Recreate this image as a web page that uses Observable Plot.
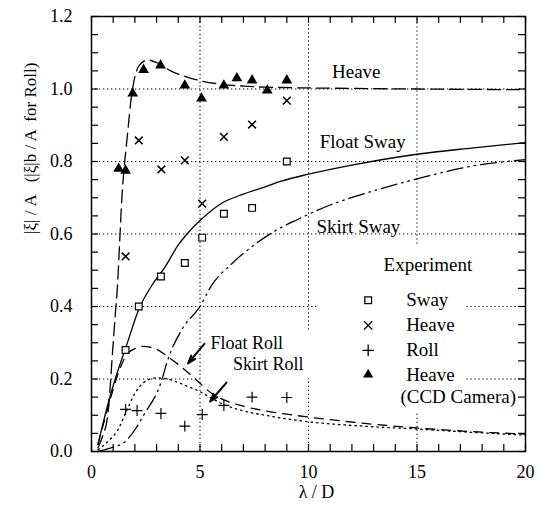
<!DOCTYPE html>
<html><head><meta charset="utf-8">
<script src="https://cdn.jsdelivr.net/npm/d3@7"></script>
<script src="https://cdn.jsdelivr.net/npm/@observablehq/plot@0.6"></script>
<style>body{margin:0;background:#fff} svg text{font-family:"Liberation Serif","Times New Roman",serif !important;}</style>
</head><body><div id="chart"></div>
<script>
// Theory curves [lambda/D, amplitude]
const heaveTheory = [[0.3,0.01],[0.5,0.04],[0.75,0.1],[1.0,0.3],[1.1,0.38],[1.2,0.46],[1.3,0.58],[1.4,0.7],[1.5,0.78],[1.6,0.84],[1.7,0.9],[1.8,0.96],[1.95,1.02],[2.2,1.065],[2.6,1.08],[3.1,1.07],[3.65,1.05],[4.3,1.035],[5,1.023],[6,1.013],[7,1.008],[8,1.005],[10,1.003],[15,1.0],[20,0.998]];
const floatSway = [[0.3,0.02],[0.8,0.14],[1.2,0.22],[1.6,0.29],[2.2,0.395],[2.8,0.46],[3.4,0.51],[4.0,0.57],[4.4,0.60],[5,0.637],[6,0.685],[7,0.71],[8,0.73],[8.7,0.745],[10,0.765],[12,0.79],[15,0.82],[17.5,0.837],[20,0.852]];
const skirtSway = [[0.3,0.0],[1.0,0.012],[1.5,0.025],[2.0,0.06],[2.4,0.10],[3.2,0.19],[3.5,0.25],[4.2,0.34],[5,0.40],[5.5,0.455],[6.5,0.52],[7.5,0.57],[8.5,0.61],[9.5,0.64],[11,0.68],[12.5,0.71],[15,0.752],[17.5,0.787],[20,0.805]];
const floatRoll = [[0.3,0.02],[0.8,0.13],[1.2,0.21],[1.6,0.265],[2.0,0.284],[2.4,0.29],[3.0,0.282],[3.5,0.262],[4.0,0.24],[4.5,0.215],[5.0,0.188],[5.5,0.162],[6.0,0.145],[7,0.125],[8,0.112],[9,0.103],[10,0.095],[12.5,0.078],[15,0.065],[17.5,0.055],[20,0.048]];
const skirtRoll = [[0.3,0.005],[0.8,0.03],[1.2,0.058],[1.6,0.11],[2.0,0.16],[2.4,0.19],[3.0,0.203],[3.5,0.2],[4.0,0.19],[4.5,0.178],[5.0,0.165],[5.5,0.148],[6.0,0.132],[7.0,0.112],[8.0,0.1],[9,0.09],[10,0.082],[12.5,0.07],[15,0.062],[17.5,0.053],[20,0.045]];

// Experimental points
const expSway  = [[1.57,0.28],[2.18,0.40],[3.2,0.483],[4.3,0.52],[5.1,0.59],[6.1,0.656],[7.4,0.672],[9.0,0.80]];
const expHeave = [[1.57,0.538],[2.18,0.858],[3.22,0.778],[4.3,0.803],[5.1,0.684],[6.1,0.868],[7.4,0.902],[9.0,0.968]];
const expRoll  = [[1.57,0.116],[2.1,0.113],[3.2,0.105],[4.3,0.07],[5.1,0.102],[6.1,0.127],[7.4,0.15],[9.0,0.149]];
const expCCD   = [[1.25,0.78],[1.57,0.775],[1.9,0.988],[2.4,1.053],[3.18,1.065],[4.3,1.01],[5.07,0.974],[6.1,1.01],[6.7,1.03],[7.4,1.024],[8.1,0.996],[9.0,1.024]];

// Axis ticks
const xTickLabels = [0,5,10,15,20];
const xMinorTicks = d3.range(0,21,1);
const yTickLabels = [0,0.2,0.4,0.6,0.8,1.0,1.2];
const yMinorTicks = d3.range(0,1.2001,0.05);

// Grid segments (interrupted around labels)
const gridY = [{y:1.0,x1:0,x2:20},{y:0.8,x1:0,x2:20},{y:0.6,x1:0,x2:20},{y:0.4,x1:0,x2:10.4},{y:0.4,x1:17.3,x2:20},{y:0.2,x1:0,x2:5},{y:0.2,x1:17.3,x2:20}];
const gridX = [{x:5,y1:0,y2:1.2},{x:10,y1:0.335,y2:1.2},{x:10,y1:0,y2:0.2},{x:15,y1:0.572,y2:1.2},{x:15,y1:0,y2:0.105}];

// Annotations
const curveLabels = [
  {x:12.2,y:1.045,text:"Heave",size:19},
  {x:12.5,y:0.853,text:"Float Sway",size:19},
  {x:12.3,y:0.618,text:"Skirt Sway",size:19},
  {x:15.5,y:0.513,text:"Experiment",size:19},
  {x:7.15,y:0.296,text:"Float Roll",size:18},
  {x:8.15,y:0.24,text:"Skirt Roll",size:18},
  {x:16.9,y:0.149,text:"(CCD Camera)",size:19}
];
const arrows = [
  {x1:5.2,y1:0.297,x2:4.45,y2:0.243},
  {x1:6.22,y1:0.19,x2:5.47,y2:0.138}
];
const legendX = 12.75, legendTextX = 14.5;
const legendItems = [
  {y:0.417,text:"Sway",symbol:"square",fill:"white"},
  {y:0.348,text:"Heave",symbol:"times",fill:"none"},
  {y:0.279,text:"Roll",symbol:"plus",fill:"none"},
  {y:0.212,text:"Heave",symbol:"triangle",fill:"black"}
];

const serif = "Liberation Serif";
const W = 546, H = 512, mL = 91, mR = 21, mT = 16, mB = 61;
const pw = W - mL - mR, ph = H - mT - mB, tk = 7;
const lw = 1.3;
const pts = (arr) => arr.map(([x,y]) => ({x,y}));
const T = {fontFamily: serif, fill: "black"};

const chart = Plot.plot({
  width: W, height: H,
  marginLeft: mL, marginRight: mR, marginTop: mT, marginBottom: mB,
  style: {fontFamily: serif, background: "white", overflow: "visible"},
  x: {domain: [0,20], axis: null},
  y: {domain: [0,1.2], axis: null},
  marks: [
    // grid
    Plot.ruleY(gridY, {y:"y", x1:"x1", x2:"x2", stroke:"black", strokeWidth:1, strokeDasharray:"1.3,2.7"}),
    Plot.ruleX(gridX, {x:"x", y1:"y1", y2:"y2", stroke:"black", strokeWidth:1, strokeDasharray:"1.3,2.7"}),
    // ticks (inward, all four sides)
    Plot.tickX(xMinorTicks, {x:d=>d, insetTop: ph - tk, stroke:"black", strokeWidth:1.2}),
    Plot.tickX(xMinorTicks, {x:d=>d, insetBottom: ph - tk, stroke:"black", strokeWidth:1.2}),
    Plot.tickY(yMinorTicks, {y:d=>d, insetRight: pw - tk, stroke:"black", strokeWidth:1.2}),
    Plot.tickY(yMinorTicks, {y:d=>d, insetLeft: pw - tk, stroke:"black", strokeWidth:1.2}),
    // theory curves
    Plot.line(pts(heaveTheory), {x:"x", y:"y", curve:"monotone-x", stroke:"black", strokeWidth:lw, strokeDasharray:"13,6"}),
    Plot.line(pts(floatSway), {x:"x", y:"y", curve:"monotone-x", stroke:"black", strokeWidth:lw}),
    Plot.line(pts(skirtSway), {x:"x", y:"y", curve:"monotone-x", stroke:"black", strokeWidth:lw, strokeDasharray:"16,5,1.5,5,1.5,5"}),
    Plot.line(pts(floatRoll), {x:"x", y:"y", curve:"monotone-x", stroke:"black", strokeWidth:lw, strokeDasharray:"9,7"}),
    Plot.line(pts(skirtRoll), {x:"x", y:"y", curve:"monotone-x", stroke:"black", strokeWidth:lw, strokeDasharray:"1.5,4"}),
    // experiment
    Plot.dot(pts(expSway), {x:"x", y:"y", symbol:"square", r:3.8, stroke:"black", fill:"white", strokeWidth:1.2}),
    Plot.dot(pts(expHeave), {x:"x", y:"y", symbol:"times", r:3.6, stroke:"black", strokeWidth:1.5}),
    Plot.dot(pts(expRoll), {x:"x", y:"y", symbol:"plus", r:3.6, stroke:"black", strokeWidth:1.2}),
    Plot.dot(pts(expCCD), {x:"x", y:"y", symbol:"triangle", r:4, fill:"black", stroke:"none"}),
    // frame
    Plot.frame({stroke:"black", strokeWidth:1.5}),
    // tick labels
    Plot.text(xTickLabels, {...T, x:d=>d, frameAnchor:"bottom", dy:26, text:d=>String(d), fontSize:18}),
    Plot.text(yTickLabels, {...T, y:d=>d, frameAnchor:"left", dx:-19, textAnchor:"end", text:d=>d.toFixed(1), fontSize:18}),
    // axis labels
    Plot.text(["λ / D"], {...T, frameAnchor:"bottom", dx:8, dy:46, text:d=>d, fontSize:18}),
    Plot.text(["|ξ| / A   (|ξ|b / A  for Roll)"], {...T, frameAnchor:"left", dx:-61, rotate:-90, text:d=>d, fontSize:17}),
    // annotations
    Plot.text(curveLabels, {...T, x:"x", y:"y", text:"text", fontSize:"size", lineHeight:0.9}),
    Plot.arrow(arrows, {x1:"x1", y1:"y1", x2:"x2", y2:"y2", stroke:"black", strokeWidth:2, headLength:10, headAngle:35}),
    // legend
    Plot.dot(legendItems, {x:()=>legendX, y:"y", symbol:"symbol", r:3.8, fill:"fill", stroke:d=>d.symbol==="triangle"?"none":"black", strokeWidth:1.3}),
    Plot.text(legendItems, {...T, x:()=>legendTextX, y:"y", text:"text", textAnchor:"start", fontSize:19})
  ]
});
document.getElementById("chart").appendChild(chart);
</script>
</body></html>
